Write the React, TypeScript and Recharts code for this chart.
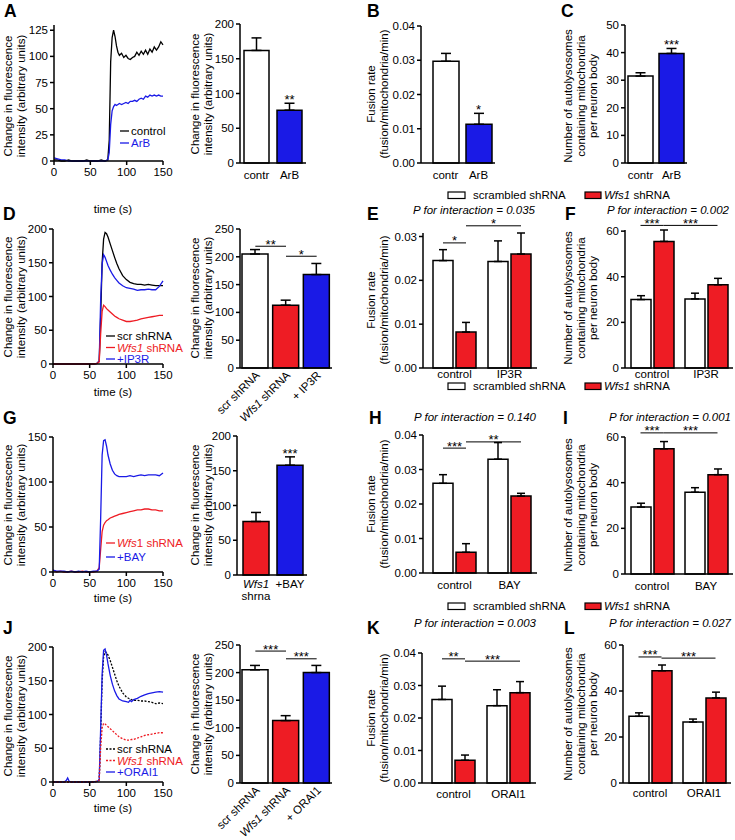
import React from "react"
import { LineChart, Line, BarChart, Bar, XAxis, YAxis, ErrorBar, Cell } from "recharts"

// ---------- calcium traces (time in s) ----------
const aTime = [0, 5, 10, 15, 20, 25, 30, 35, 40, 45, 50, 55, 60, 65, 70, 74, 76, 78, 80, 82, 84, 86, 88, 90, 93, 96, 99, 102, 105, 108, 111, 114, 117, 120, 123, 126, 129, 132, 135, 138, 141, 144, 147, 150]
const aControl = [1, 1, 0, 0, 1, 0, 0, 0, 0, 1, 0, 0, 0, 1, 0, 1, 20, 95, 118, 125, 119, 110, 104, 101, 103, 99, 101, 98, 97, 99, 100, 104, 101, 105, 102, 106, 102, 107, 104, 109, 106, 109, 114, 111]
const aArb = [3, 2, 1, 1, 0, 0, 0, 0, 0, 0, 0, 0, 0, 0, 0, 1, 8, 35, 48, 52, 54, 53, 54, 55, 54, 55, 56, 55, 57, 57, 58, 57, 59, 60, 59, 62, 61, 63, 62, 63, 62, 63, 62, 62]

const dTime = [0, 10, 20, 30, 40, 50, 55, 60, 63, 65, 67, 69, 71, 73, 75, 78, 81, 84, 87, 90, 95, 100, 105, 110, 115, 120, 125, 130, 135, 140, 145, 150]
const dScr = [0, 0, 0, 0, 0, 0, 0, 1, 4, 70, 150, 185, 195, 193, 188, 178, 168, 158, 149, 141, 131, 125, 121, 119, 118, 118, 117, 118, 117, 116, 116, 116]
const dWfs = [0, 0, 0, 0, 0, 0, 0, 1, 3, 45, 78, 87, 85, 82, 80, 77, 74, 71, 69, 67, 65, 63, 63, 64, 65, 67, 68, 69, 70, 71, 72, 72]
const dIp3r = [0, 0, 0, 0, 0, 0, 0, 1, 4, 95, 148, 162, 158, 152, 146, 139, 133, 128, 124, 120, 116, 113, 112, 111, 109, 110, 110, 111, 110, 110, 115, 123]

const gTime = [0, 5, 10, 15, 20, 25, 30, 35, 40, 45, 50, 55, 60, 63, 65, 67, 69, 71, 73, 75, 78, 81, 84, 87, 90, 95, 100, 105, 110, 115, 120, 125, 130, 135, 140, 145, 150]
const gWfs = [2, 0, 1, 0, 0, 1, 0, 0, 1, 0, 0, 0, 1, 5, 25, 45, 52, 55, 57, 58, 60, 61, 62, 63, 64, 65, 66, 67, 68, 69, 69, 70, 70, 69, 69, 68, 68]
const gBay = [2, 1, 1, 1, 0, 1, 0, 1, 0, 1, 0, 1, 1, 3, 60, 130, 146, 147, 140, 130, 120, 113, 109, 107, 106, 106, 106, 107, 106, 107, 108, 107, 108, 108, 108, 107, 110]

const jTime = [0, 10, 15, 18, 20, 22, 25, 30, 40, 50, 55, 60, 63, 65, 67, 69, 71, 73, 75, 78, 81, 84, 87, 90, 95, 100, 103, 105, 107, 110, 115, 120, 125, 130, 135, 140, 145, 150]
const jScr = [0, 0, 0, 0, 0, 0, 0, 0, 0, 0, 0, 1, 3, 70, 150, 185, 193, 192, 188, 180, 170, 160, 150, 142, 132, 126, 124, 123, 122, 121, 121, 120, 120, 119, 118, 116, 117, 116]
const jWfs = [0, 0, 0, 0, 0, 0, 0, 0, 0, 0, 0, 1, 3, 50, 80, 87, 86, 84, 82, 79, 76, 73, 70, 67, 64, 62, 62, 62, 63, 63, 65, 67, 69, 70, 71, 72, 73, 73]
const jOrai = [0, 0, 0, 2, 6, 1, 0, 0, 0, 0, 0, 1, 3, 80, 160, 195, 197, 188, 175, 158, 145, 135, 128, 123, 120, 119, 118, 121, 119, 122, 124, 127, 129, 131, 132, 133, 134, 133]

// ---------- single-series bar panels ----------
const aBarNames = ["contr", "ArB"]
const aBarMeans = [162, 76]
const aBarSem = [18, 10]

const bNames = ["contr", "ArB"]
const bMeans = [0.0297, 0.0113]
const bSem = [0.0023, 0.0032]

const cNames = ["contr", "ArB"]
const cMeans = [31.5, 39.7]
const cSem = [1.2, 1.8]

const dBarNames = ["scr shRNA", "Wfs1 shRNA", "+ IP3R"]
const dBarMeans = [205, 113, 168]
const dBarSem = [8, 9, 20]

const gBarNames = ["Wfs1 shrna", "+BAY"]
const gBarMeans = [77, 158]
const gBarSem = [13, 12]

const jBarNames = ["scr shRNA", "Wfs1 shRNA", "+ ORAI1"]
const jBarMeans = [205, 113, 200]
const jBarSem = [8, 9, 13]

// ---------- grouped panels (scrambled vs Wfs1 shRNA) ----------
const eGroups = ["control", "IP3R"]
const eScr = [0.0245, 0.0243]
const eScrSem = [0.0025, 0.0047]
const eWfs = [0.0082, 0.026]
const eWfsSem = [0.0022, 0.0048]

const fGroups = ["control", "IP3R"]
const fScr = [30, 30.3]
const fScrSem = [1.7, 2.5]
const fWfs = [55.5, 36.5]
const fWfsSem = [5, 2.8]

const hGroups = ["control", "BAY"]
const hScr = [0.026, 0.033]
const hScrSem = [0.0025, 0.0048]
const hWfs = [0.006, 0.0223]
const hWfsSem = [0.0025, 0.0008]

const iGroups = ["control", "BAY"]
const iScr = [29.3, 35.8]
const iScrSem = [1.7, 2]
const iWfs = [54.8, 43.5]
const iWfsSem = [3.2, 2.5]

const kGroups = ["control", "ORAI1"]
const kScr = [0.0257, 0.0238]
const kScrSem = [0.0041, 0.0049]
const kWfs = [0.007, 0.0278]
const kWfsSem = [0.0016, 0.0034]

const lGroups = ["control", "ORAI1"]
const lScr = [29, 26.5]
const lScrSem = [1.5, 1.3]
const lWfs = [48.8, 37]
const lWfsSem = [2.5, 2.5]

const fluoTicks = [0, 50, 100, 150, 200]
const fluoTicks250 = [0, 50, 100, 150, 200, 250]
const fusionTicks = [0, 0.01, 0.02, 0.03, 0.04]
const autoTicks = [0, 20, 40, 60]

// ---------- styling ----------
const FONT = "'Liberation Sans', Arial, Helvetica, sans-serif"
const RED = "#ee1c24"
const BLUE = "#1a1ae6"
const FS = 11.5
const STAR_FS = 13
const YW = 40
const MT = 6
const XH = 56
const BAR_W = 20
const BAR_GAP = 3

type Box = { l: number; t: number; r: number; b: number }

const axisStyle = { stroke: "#000", strokeWidth: 1.5 }
const tickStyle = { fill: "#000", fontSize: FS }
const fix2 = (v: number) => v.toFixed(2)

function place(box: Box, mr: number) {
  return {
    style: { position: "absolute" as const, left: box.l - YW, top: box.t - MT },
    width: box.r - box.l + YW + mr,
    height: box.b - box.t + MT + XH,
    margin: { top: MT, right: mr, bottom: 0, left: 0 },
  }
}

const yPx = (box: Box, max: number, v: number) => box.b - (v / max) * (box.b - box.t)
const bandCenter = (box: Box, pad: number, n: number, i: number) =>
  box.l + pad + ((box.r - box.l - pad) / n) * (i + 0.5)

type Trace = { key: string; values: number[]; color: string; dash?: string }

function TracePanel({ box, time, max, yTicks, traces }: { box: Box; time: number[]; max: number; yTicks: number[]; traces: Trace[] }) {
  const rows = time.map((t, i) => {
    const r: Record<string, number> = { t }
    traces.forEach((s) => (r[s.key] = s.values[i]))
    return r
  })
  const p = place(box, 16)
  return (
    <div style={p.style}>
      <LineChart width={p.width} height={p.height} data={rows} margin={p.margin}>
        <XAxis dataKey="t" type="number" domain={[0, 150]} ticks={[0, 50, 100, 150]} interval={0}
          axisLine={axisStyle} tickLine={axisStyle} tickSize={4} tickMargin={3} tick={tickStyle} height={XH} />
        <YAxis type="number" domain={[0, max]} ticks={yTicks} interval={0}
          axisLine={axisStyle} tickLine={axisStyle} tickSize={4} tickMargin={2} tick={tickStyle} width={YW} />
        {traces.map((s) => (
          <Line key={s.key} dataKey={s.key} type="linear" stroke={s.color} strokeWidth={1.3}
            strokeDasharray={s.dash} dot={false} isAnimationActive={false} />
        ))}
      </LineChart>
    </div>
  )
}

function SlantTick(props: any) {
  const { x, y, payload } = props
  const label = String(payload.value)
  const ax = x + 5
  const ay = y
  return (
    <text x={ax} y={ay} transform={`rotate(-45, ${ax}, ${ay})`} textAnchor="end" fontSize={FS} fill="#000">
      {label.startsWith("Wfs1") ? (
        <>
          <tspan fontStyle="italic">Wfs1</tspan>
          {label.slice(4)}
        </>
      ) : label}
    </text>
  )
}

function StackTick(props: any) {
  const { x, y, payload } = props
  const parts = String(payload.value).split(" ")
  if (parts.length === 1) {
    return <text x={x} y={y + 5} textAnchor="middle" fontSize={FS} fill="#000">{parts[0]}</text>
  }
  return (
    <text x={x} y={y + 5} textAnchor="middle" fontSize={FS} fill="#000">
      <tspan fontStyle="italic">{parts[0]}</tspan>
      <tspan x={x} dy={12}>{parts[1]}</tspan>
    </text>
  )
}

type SimpleSpec = {
  box: Box; pad: number; max: number; yTicks: number[]; fmt?: (v: number) => string
  names: string[]; means: number[]; sems: number[]; colors: string[]; barSize: number; tick?: any
}

function SimpleBars({ box, pad, max, yTicks, fmt, names, means, sems, colors, barSize, tick }: SimpleSpec) {
  const rows = names.map((name, i) => ({ name, mean: means[i], sem: [0, sems[i]] }))
  const p = place(box, 6)
  return (
    <div style={p.style}>
      <BarChart width={p.width} height={p.height} data={rows} margin={p.margin}>
        <XAxis dataKey="name" type="category" padding={{ left: pad, right: 0 }} interval={0}
          axisLine={axisStyle} tickLine={false} tickSize={0} tickMargin={8} tick={tick ?? tickStyle} height={XH} />
        <YAxis type="number" domain={[0, max]} ticks={yTicks} interval={0} tickFormatter={fmt}
          axisLine={axisStyle} tickLine={axisStyle} tickSize={4} tickMargin={2} tick={tickStyle} width={YW} />
        <Bar dataKey="mean" barSize={barSize} stroke="#000" strokeWidth={1.5} isAnimationActive={false}>
          {rows.map((r, i) => <Cell key={r.name} fill={colors[i]} />)}
          <ErrorBar dataKey="sem" width={5} stroke="#000" strokeWidth={1.5} />
        </Bar>
      </BarChart>
    </div>
  )
}

type GroupSpec = {
  box: Box; pad: number; max: number; yTicks: number[]; fmt?: (v: number) => string; labelGap: number
  groups: string[]; scr: number[]; scrSem: number[]; wfs: number[]; wfsSem: number[]
}

function GroupBars({ box, pad, max, yTicks, fmt, labelGap, groups, scr, scrSem, wfs, wfsSem }: GroupSpec) {
  const rows = groups.map((name, i) => ({
    name, scr: scr[i], wfs: wfs[i], scrSem: [0, scrSem[i]], wfsSem: [0, wfsSem[i]],
  }))
  const p = place(box, 4)
  return (
    <div style={p.style}>
      <BarChart width={p.width} height={p.height} data={rows} margin={p.margin} barGap={BAR_GAP}>
        <XAxis dataKey="name" type="category" padding={{ left: pad, right: 0 }} interval={0}
          axisLine={axisStyle} tickLine={false} tickSize={0} tickMargin={labelGap} tick={tickStyle} height={XH} />
        <YAxis type="number" domain={[0, max]} ticks={yTicks} interval={0} tickFormatter={fmt}
          axisLine={axisStyle} tickLine={axisStyle} tickSize={4} tickMargin={2} tick={tickStyle} width={YW} />
        <Bar dataKey="scr" barSize={BAR_W} fill="#fff" stroke="#000" strokeWidth={1.5} isAnimationActive={false}>
          <ErrorBar dataKey="scrSem" width={4} stroke="#000" strokeWidth={1.5} />
        </Bar>
        <Bar dataKey="wfs" barSize={BAR_W} fill={RED} stroke="#000" strokeWidth={1.5} isAnimationActive={false}>
          <ErrorBar dataKey="wfsSem" width={4} stroke="#000" strokeWidth={1.5} />
        </Bar>
      </BarChart>
    </div>
  )
}

// ---------- panel geometry ----------
const boxA1 = { l: 54, t: 25, r: 163, b: 161 }
const boxA2 = { l: 240, t: 24, r: 306, b: 163 }
const boxB = { l: 421, t: 26, r: 495, b: 163 }
const boxC = { l: 625, t: 25, r: 687, b: 163 }
const boxD1 = { l: 53, t: 229, r: 163, b: 364 }
const boxD2 = { l: 240, t: 229, r: 332, b: 368 }
const boxE = { l: 423, t: 233, r: 537, b: 368 }
const boxF = { l: 625, t: 230, r: 733, b: 368 }
const boxG1 = { l: 53, t: 437, r: 163, b: 572 }
const boxG2 = { l: 237, t: 436, r: 307, b: 575 }
const boxH = { l: 423, t: 435, r: 537, b: 573 }
const boxI = { l: 625, t: 437, r: 733, b: 574 }
const boxJ1 = { l: 53, t: 647, r: 163, b: 782 }
const boxJ2 = { l: 240, t: 645, r: 332, b: 783 }
const boxK = { l: 422, t: 653, r: 536, b: 783 }
const boxL = { l: 623, t: 645, r: 731, b: 783 }

type Bracket = { from: number; to: number; level: number; text: string }

const simplePanels: (SimpleSpec & { stars: { i: number; text: string }[]; brackets: Bracket[] })[] = [
  { box: boxA2, pad: 0, max: 200, yTicks: fluoTicks, names: aBarNames, means: aBarMeans, sems: aBarSem, colors: ["#fff", BLUE], barSize: 25, stars: [{ i: 1, text: "**" }], brackets: [] },
  { box: boxB, pad: 8, max: 0.04, yTicks: fusionTicks, fmt: fix2, names: bNames, means: bMeans, sems: bSem, colors: ["#fff", BLUE], barSize: 26, stars: [{ i: 1, text: "*" }], brackets: [] },
  { box: boxC, pad: 0, max: 50, yTicks: [0, 10, 20, 30, 40, 50], names: cNames, means: cMeans, sems: cSem, colors: ["#fff", BLUE], barSize: 25, stars: [{ i: 1, text: "***" }], brackets: [] },
  { box: boxD2, pad: 0, max: 250, yTicks: fluoTicks250, names: dBarNames, means: dBarMeans, sems: dBarSem, colors: ["#fff", RED, BLUE], barSize: 26, tick: SlantTick, stars: [],
    brackets: [{ from: 0, to: 1, level: 219, text: "**" }, { from: 1, to: 2, level: 201, text: "*" }] },
  { box: boxG2, pad: 2, max: 200, yTicks: fluoTicks, names: gBarNames, means: gBarMeans, sems: gBarSem, colors: [RED, BLUE], barSize: 26, tick: StackTick, stars: [{ i: 1, text: "***" }], brackets: [] },
  { box: boxJ2, pad: 0, max: 250, yTicks: fluoTicks250, names: jBarNames, means: jBarMeans, sems: jBarSem, colors: ["#fff", RED, BLUE], barSize: 26, tick: SlantTick, stars: [],
    brackets: [{ from: 0, to: 1, level: 239, text: "***" }, { from: 1, to: 2, level: 225, text: "***" }] },
]

const groupPanels: (GroupSpec & { brackets: Bracket[] })[] = [
  { box: boxE, pad: 4, max: 0.03, yTicks: [0, 0.01, 0.02, 0.03], fmt: fix2, labelGap: 2, groups: eGroups, scr: eScr, scrSem: eScrSem, wfs: eWfs, wfsSem: eWfsSem,
    brackets: [{ from: 0, to: 1, level: 0.0278, text: "*" }, { from: 1, to: 3, level: 0.0316, text: "*" }] },
  { box: boxF, pad: 0, max: 60, yTicks: autoTicks, labelGap: 2, groups: fGroups, scr: fScr, scrSem: fScrSem, wfs: fWfs, wfsSem: fWfsSem,
    brackets: [{ from: 0, to: 1, level: 62, text: "***" }, { from: 1, to: 3, level: 62, text: "***" }] },
  { box: boxH, pad: 4, max: 0.04, yTicks: fusionTicks, fmt: fix2, labelGap: 8, groups: hGroups, scr: hScr, scrSem: hScrSem, wfs: hWfs, wfsSem: hWfsSem,
    brackets: [{ from: 0, to: 1, level: 0.0362, text: "***" }, { from: 1, to: 3, level: 0.038, text: "**" }] },
  { box: boxI, pad: 0, max: 60, yTicks: autoTicks, labelGap: 8, groups: iGroups, scr: iScr, scrSem: iScrSem, wfs: iWfs, wfsSem: iWfsSem,
    brackets: [{ from: 0, to: 1, level: 61.8, text: "***" }, { from: 1, to: 3, level: 61.8, text: "***" }] },
  { box: boxK, pad: 4, max: 0.04, yTicks: fusionTicks, fmt: fix2, labelGap: 7, groups: kGroups, scr: kScr, scrSem: kScrSem, wfs: kWfs, wfsSem: kWfsSem,
    brackets: [{ from: 0, to: 1, level: 0.0382, text: "**" }, { from: 1, to: 3, level: 0.0375, text: "***" }] },
  { box: boxL, pad: 0, max: 60, yTicks: autoTicks, labelGap: 6, groups: lGroups, scr: lScr, scrSem: lScrSem, wfs: lWfs, wfsSem: lWfsSem,
    brackets: [{ from: 0, to: 1, level: 54.8, text: "***" }, { from: 1, to: 3, level: 54.3, text: "***" }] },
]

const fluoLabel = ["Change in fluorescence", "intensity (arbitrary units)"]
const fusionLabel = ["Fusion rate", "(fusion/mitochondria/min)"]
const autoLabel = ["Number of autolysosomes", "containing mitochondria", "per neuron body"]

const yLabels: [string[], number, number][] = [
  [fluoLabel, 12, 96], [fluoLabel, 199, 94], [fusionLabel, 375, 94], [autoLabel, 572, 96],
  [fluoLabel, 12, 297], [fluoLabel, 199, 298], [fusionLabel, 375, 300], [autoLabel, 572, 298],
  [fluoLabel, 12, 505], [fluoLabel, 199, 505], [fusionLabel, 375, 504], [autoLabel, 572, 505],
  [fluoLabel, 12, 716], [fluoLabel, 199, 714], [fusionLabel, 375, 718], [autoLabel, 572, 714],
]

const letters: [string, number, number][] = [
  ["A", 4, 17], ["B", 367, 17], ["C", 561, 17],
  ["D", 3, 220], ["E", 367, 220], ["F", 565, 220],
  ["G", 3, 424], ["H", 369, 424], ["I", 563, 424],
  ["J", 3, 634], ["K", 367, 634], ["L", 564, 634],
]

const interactions: [string, number, number][] = [
  ["0.035", 474, 214], ["0.002", 668, 214],
  ["0.140", 475, 421], ["0.001", 670, 421],
  ["0.003", 475, 627], ["0.027", 670, 627],
]

const timeLabels: [number, number][] = [[113, 213], [113, 396], [113, 602], [113, 812]]
const legendRows = [199, 390, 610]

type LegendItem = { text: string; color: string; dash?: string; italic?: boolean }
const traceLegends: { x: number; y: number; step: number; items: LegendItem[] }[] = [
  { x: 120, y: 135, step: 12, items: [{ text: "control", color: "#000" }, { text: "ArB", color: BLUE }] },
  { x: 106, y: 340, step: 11.5, items: [{ text: "scr shRNA", color: "#000" }, { text: "shRNA", color: RED, italic: true }, { text: "+IP3R", color: BLUE }] },
  { x: 106, y: 547, step: 14, items: [{ text: "1 shRNA", color: RED, italic: true }, { text: "+BAY", color: BLUE }] },
  { x: 106, y: 753, step: 11.5, items: [{ text: "scr shRNA", color: "#000", dash: "2 1.5" }, { text: "shRNA", color: RED, dash: "2 1.5", italic: true }, { text: "+ORAI1", color: BLUE }] },
]

function Stars({ x, y, text }: { x: number; y: number; text: string }) {
  return <text x={x} y={y} textAnchor="middle" fontSize={STAR_FS}>{text}</text>
}

function Overlay() {
  const slotX = (box: Box, pad: number, slot: number) =>
    bandCenter(box, pad, 2, Math.floor(slot / 2)) + (slot % 2 === 0 ? -1 : 1) * (BAR_W + BAR_GAP) / 2
  return (
    <svg width={735} height={840} style={{ position: "absolute", left: 0, top: 0, pointerEvents: "none" }}
      fontFamily={FONT} fontSize={FS}>
      {letters.map(([t, x, y]) => (
        <text key={t} x={x} y={y} fontSize={17.5} fontWeight="bold">{t}</text>
      ))}
      {yLabels.map(([lines, x, y], k) => (
        <text key={k} transform={`translate(${x},${y}) rotate(-90)`} textAnchor="middle">
          {lines.map((ln, i) => (
            <tspan key={i} x={0} dy={i === 0 ? 0 : 12.5}>{ln}</tspan>
          ))}
        </text>
      ))}
      {interactions.map(([p, x, y]) => (
        <text key={p} x={x} y={y} textAnchor="middle" fontStyle="italic">P for interaction = {p}</text>
      ))}
      {timeLabels.map(([x, y]) => (
        <text key={y} x={x} y={y} textAnchor="middle">time (s)</text>
      ))}
      {legendRows.map((y) => (
        <g key={y}>
          <rect x={448} y={y - 7} width={17} height={6.5} fill="#fff" stroke="#000" strokeWidth={1.2} />
          <text x={473} y={y}>scrambled shRNA</text>
          <rect x={585} y={y - 7} width={16} height={6.5} fill={RED} stroke="#000" strokeWidth={1.2} />
          <text x={604} y={y}><tspan fontStyle="italic">Wfs1</tspan> shRNA</text>
        </g>
      ))}
      {traceLegends.map((lg, k) => (
        <g key={k}>
          {lg.items.map((it, i) => {
            const y = lg.y + i * lg.step
            return (
              <g key={i}>
                <line x1={lg.x} x2={lg.x + 9} y1={y - 4} y2={y - 4} stroke={it.color} strokeWidth={1.3} strokeDasharray={it.dash} />
                <text x={lg.x + 11} y={y} fill={it.color}>
                  {it.italic ? (
                    <>
                      <tspan fontStyle="italic">{it.text.startsWith("1") ? "Wfs" : "Wfs1"}</tspan>
                      {it.text.startsWith("1") ? it.text : " " + it.text}
                    </>
                  ) : it.text}
                </text>
              </g>
            )
          })}
        </g>
      ))}
      {simplePanels.map((sp, k) => (
        <g key={k}>
          {sp.stars.map((s) => (
            <Stars key={s.i} x={bandCenter(sp.box, sp.pad, sp.names.length, s.i)}
              y={yPx(sp.box, sp.max, sp.means[s.i] + sp.sems[s.i]) + 1} text={s.text} />
          ))}
          {sp.brackets.map((b, i) => {
            const x1 = bandCenter(sp.box, sp.pad, sp.names.length, b.from)
            const x2 = bandCenter(sp.box, sp.pad, sp.names.length, b.to)
            const y = yPx(sp.box, sp.max, b.level)
            return (
              <g key={i}>
                <line x1={x1} x2={x2} y1={y} y2={y} stroke="#000" strokeWidth={1} />
                <Stars x={(x1 + x2) / 2} y={y + 2.5} text={b.text} />
              </g>
            )
          })}
        </g>
      ))}
      {groupPanels.map((gp, k) => (
        <g key={k}>
          {gp.brackets.map((b, i) => {
            const x1 = slotX(gp.box, gp.pad, b.from)
            const x2 = slotX(gp.box, gp.pad, b.to)
            const y = yPx(gp.box, gp.max, b.level)
            return (
              <g key={i}>
                <line x1={x1} x2={x2} y1={y} y2={y} stroke="#000" strokeWidth={1} />
                <Stars x={(x1 + x2) / 2} y={y + 2.5} text={b.text} />
              </g>
            )
          })}
        </g>
      ))}
    </svg>
  )
}

export default function App() {
  return (
    <div style={{ position: "absolute", left: 0, top: 0, width: 735, height: 840, background: "#fff", overflow: "hidden", fontFamily: FONT }}>
      <TracePanel box={boxA1} time={aTime} max={130} yTicks={[0, 25, 50, 75, 100, 125]}
        traces={[{ key: "control", values: aControl, color: "#000" }, { key: "arb", values: aArb, color: BLUE }]} />
      <TracePanel box={boxD1} time={dTime} max={200} yTicks={fluoTicks}
        traces={[{ key: "scr", values: dScr, color: "#000" }, { key: "ip3r", values: dIp3r, color: BLUE }, { key: "wfs", values: dWfs, color: RED }]} />
      <TracePanel box={boxG1} time={gTime} max={150} yTicks={[0, 50, 100, 150]}
        traces={[{ key: "wfs", values: gWfs, color: RED }, { key: "bay", values: gBay, color: BLUE }]} />
      <TracePanel box={boxJ1} time={jTime} max={200} yTicks={fluoTicks}
        traces={[{ key: "scr", values: jScr, color: "#000", dash: "2 1.5" }, { key: "orai", values: jOrai, color: BLUE }, { key: "wfs", values: jWfs, color: RED, dash: "2 1.5" }]} />
      {simplePanels.map((sp, k) => <SimpleBars key={k} {...sp} />)}
      {groupPanels.map((gp, k) => <GroupBars key={k} {...gp} />)}
      <Overlay />
    </div>
  )
}
